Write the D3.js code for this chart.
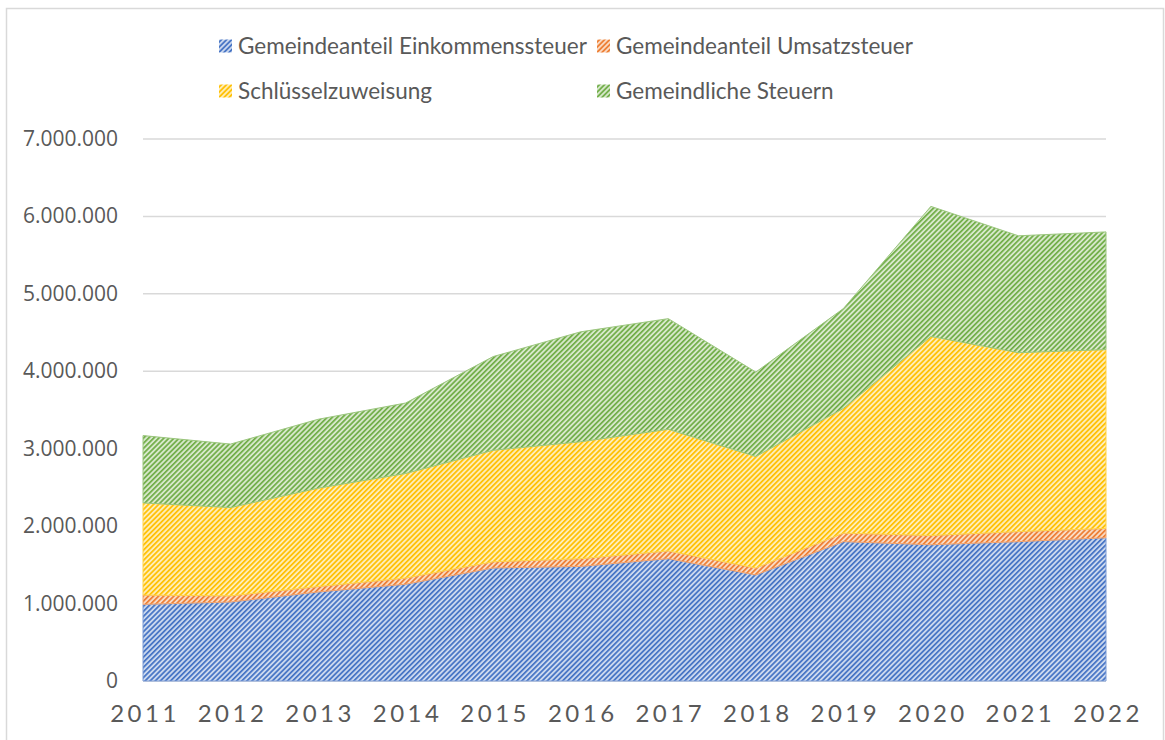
<!DOCTYPE html>
<html>
<head>
<meta charset="utf-8">
<script src="https://cdn.jsdelivr.net/npm/d3@7"></script>
<style>
  html, body { margin: 0; padding: 0; background: #fff; }
  svg { display: block; }
</style>
</head>
<body>
<svg id="canvas"></svg>
<script>
// values (EUR)
let years = ['2011', '2012', '2013', '2014', '2015', '2016', '2017', '2018', '2019', '2020', '2021', '2022']

let seriesNames = ['Gemeindeanteil Einkommenssteuer', 'Gemeindeanteil Umsatzsteuer', 'Schlüsselzuweisung', 'Gemeindliche Steuern']

let einkommensteuer = [990000, 1020000, 1150000, 1250000, 1460000, 1480000, 1580000, 1370000, 1800000, 1760000, 1800000, 1850000]
let umsatzsteuer = [120000, 80000, 70000, 80000, 80000, 100000, 100000, 90000, 110000, 120000, 130000, 120000]
let schluesselzuweisung = [1190000, 1140000, 1270000, 1350000, 1440000, 1510000, 1570000, 1440000, 1610000, 2570000, 2310000, 2310000]
let gemeindlicheSteuern = [870000, 820000, 890000, 910000, 1210000, 1420000, 1430000, 1090000, 1290000, 1680000, 1510000, 1520000]

let yTicks = [0, 1000000, 2000000, 3000000, 4000000, 5000000, 6000000, 7000000]

let colors = ['#4472C4', '#ED7D31', '#FFC000', '#70AD47']

let width = 1165
let height = 740

let svg = d3.select('#canvas')
  .attr('width', width)
  .attr('height', height)

let rows = years.map((year, i) => {
  return {
    year: year,
    s0: einkommensteuer[i],
    s1: umsatzsteuer[i],
    s2: schluesselzuweisung[i],
    s3: gemeindlicheSteuern[i]
  }
})

let keys = ['s0', 's1', 's2', 's3']

let xScale = d3.scalePoint()
  .domain(years)
  .range([143, 1106])

let yScale = d3.scaleLinear()
  .domain([0, 7000000])
  .range([681, 139])

// chart frame
svg.append('rect')
  .attr('x', 6.5)
  .attr('y', 8.5)
  .attr('width', 1157)
  .attr('height', 760)
  .attr('fill', 'none')
  .attr('stroke', '#d9d9d9')
  .attr('stroke-width', 1.5)

// hatch patterns
let defs = svg.append('defs')
colors.forEach((c, i) => {
  let light = d3.interpolateRgb(c, '#ffffff')(0.72)
  let pat = defs.append('pattern')
    .attr('id', 'hatch' + i)
    .attr('patternUnits', 'userSpaceOnUse')
    .attr('width', 3.6)
    .attr('height', 3.6)
    .attr('patternTransform', 'rotate(45)')
  pat.append('rect')
    .attr('width', 3.6)
    .attr('height', 3.6)
    .attr('fill', light)
  pat.append('rect')
    .attr('width', 1.7)
    .attr('height', 3.6)
    .attr('fill', c)
})

// gridlines
svg.append('g')
  .selectAll('line')
  .data(yTicks)
  .enter()
  .append('line')
  .attr('x1', xScale('2011'))
  .attr('x2', xScale('2022'))
  .attr('y1', (d) => yScale(d))
  .attr('y2', (d) => yScale(d))
  .attr('stroke', '#d9d9d9')
  .attr('stroke-width', 1.5)

// stacked areas
let stacked = d3.stack().keys(keys)(rows)

let area = d3.area()
  .x((d) => xScale(d.data.year))
  .y0((d) => yScale(d[0]))
  .y1((d) => yScale(d[1]))

svg.append('g')
  .selectAll('path')
  .data(stacked)
  .enter()
  .append('path')
  .attr('d', area)
  .attr('fill', (d, i) => 'url(#hatch' + i + ')')
  .attr('stroke', (d, i) => d3.interpolateRgb(colors[i], '#ffffff')(0.3))
  .attr('stroke-width', 1)

// y axis labels
let fmt = (v) => d3.format(',')(v).replace(/,/g, '.')

svg.append('g')
  .selectAll('text')
  .data(yTicks)
  .enter()
  .append('text')
  .attr('x', 118)
  .attr('y', (d) => yScale(d) + 7)
  .attr('text-anchor', 'end')
  .attr('font-family', 'Open Sans, sans-serif')
  .attr('font-size', 21)
  .attr('fill', '#595959')
  .text((d) => fmt(d))

// x axis labels
svg.append('g')
  .selectAll('text')
  .data(years)
  .enter()
  .append('text')
  .attr('x', (d) => xScale(d) + 2)
  .attr('y', 722)
  .attr('text-anchor', 'middle')
  .attr('font-family', 'Lato, sans-serif')
  .attr('font-size', 24)
  .attr('letter-spacing', 3.5)
  .attr('fill', '#595959')
  .text((d) => d)

// legend
let legendPos = [[219, 46], [597, 46], [219, 91], [597, 91]]

let legend = svg.append('g')
  .selectAll('g')
  .data(seriesNames)
  .enter()
  .append('g')
  .attr('transform', (d, i) => 'translate(' + legendPos[i][0] + ',' + legendPos[i][1] + ')')

legend.append('rect')
  .attr('x', 0)
  .attr('y', -6.5)
  .attr('width', 13)
  .attr('height', 13)
  .attr('fill', (d, i) => 'url(#hatch' + i + ')')

legend.append('text')
  .attr('x', 19)
  .attr('y', 8)
  .attr('font-family', 'Lato, sans-serif')
  .attr('font-size', 22.5)
  .attr('fill', '#595959')
  .text((d) => d)
</script>
</body>
</html>
